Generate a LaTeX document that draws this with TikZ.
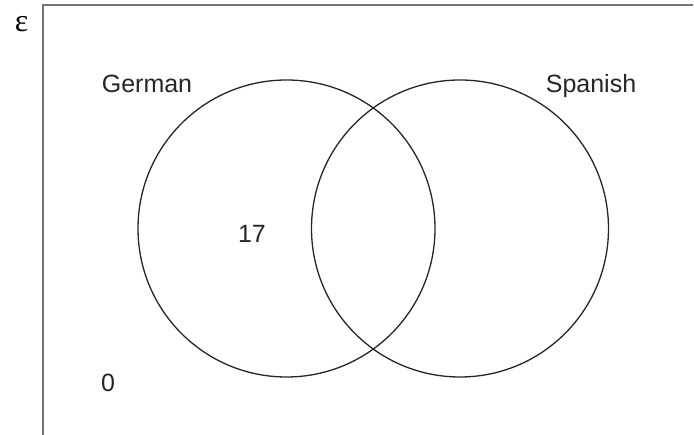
\documentclass[tikz,border=0pt]{standalone}
\usepackage{fontspec}
\setmainfont{Liberation Sans}
\newfontfamily\epsfont{Liberation Serif}

\begin{document}
\begin{tikzpicture}[x=1pt, y=-1pt,
  set/.style = {shape=circle, draw=black!85, line width=1.3pt, minimum size=297pt, inner sep=0pt},
  label/.style = {inner sep=0pt, font=\fontsize{25}{30}\selectfont, text=black!85},
  frame/.style = {draw=black!55, line width=1.8pt}]
  \useasboundingbox (0,0) rectangle (694,435);
  % universal set frame
  \coordinate (tr) at (693,5);
  \coordinate (tl) at (43,5);
  \coordinate (bl) at (43,435);
  \draw[frame] (tr) -- (tl) -- (bl);
  \node[inner sep=0pt, font=\epsfont\fontsize{32}{36}\selectfont] (universe) at (21.5,24) {ε};
  % the two sets
  \node[set] (german) at (286.5,228.5) {};
  \node[set] (spanish) at (460,228.5) {};
  \node[label, anchor=base] (germanlabel) at (147,93) {German};
  \node[label, anchor=base] (spanishlabel) at (591,93) {Spanish};
  \node[label, anchor=base] (onlygerman) at (252,243) {17};
  \node[label, anchor=base] (neither) at (108,392) {0};
\end{tikzpicture}
\end{document}
